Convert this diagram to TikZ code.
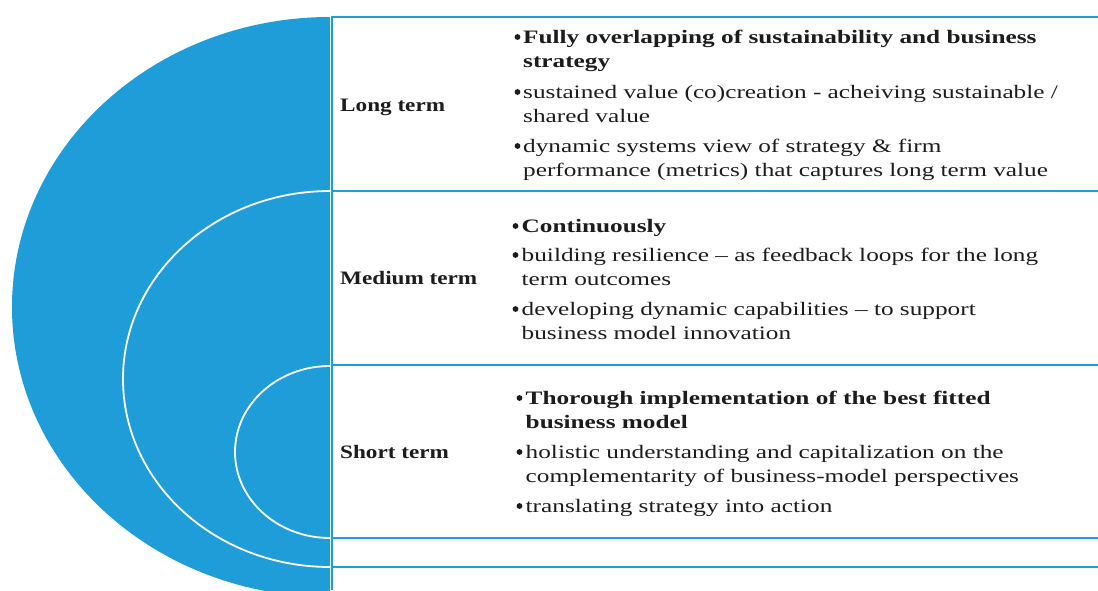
\documentclass[tikz,border=0pt]{standalone}
\usepackage{fontspec}
\setmainfont{Liberation Serif}[FakeStretch=1.33]
\newfontfamily\lblfont{Liberation Serif}[FakeStretch=1.22]
\definecolor{hblue}{RGB}{30,157,216}
\definecolor{ink}{RGB}{28,28,28}
\begin{document}
\begin{tikzpicture}[x=1pt,y=-1pt,
  base/.style={inner sep=0, anchor=base west, text=ink, font=\fontsize{19}{24.5}\selectfont},
  lbl/.style={base, font=\fontsize{19}{24.5}\selectfont\lblfont\bfseries},
  itm/.style={base, align=left},
  dot/.style={circle, fill=ink, inner sep=0, minimum size=5.8pt},
  hline/.style={draw=hblue, line width=2pt},
  warc/.style={draw=white, line width=1.8pt}
]
\useasboundingbox (0,0) rectangle (1098,590);
\clip (0,0) rectangle (1098,590);
% big blue half ellipse
\fill[hblue] (330,17) arc[start angle=90, end angle=270, x radius=318pt, y radius=290pt] -- cycle;
% inner white arcs
\draw[warc] (330,191) arc[start angle=90, end angle=270, x radius=207pt, y radius=188pt];
\draw[warc] (330,366) arc[start angle=90, end angle=270, x radius=95pt, y radius=86pt];
% frame lines
\draw[draw=hblue, line width=1.5pt] (332,16) -- (332,590);
\foreach \yy in {17,191,365,538,567} \draw[hline] (332,\yy) -- (1098,\yy);
% labels
\node[lbl] (lt) at (340,111) {Long term};
\node[lbl] (mt) at (340,284) {Medium term};
\node[lbl] (st) at (340,458) {Short term};
% long term items
\node[dot] (l1b) at (517.5,37) {};
\node[dot] (l2b) at (517.5,92) {};
\node[dot] (l3b) at (517.5,146) {};
\node[itm] (l1) at (523,43) {\begin{tabular}[t]{@{}l@{}}\textbf{Fully overlapping of sustainability and business}\\\textbf{strategy}\end{tabular}};
\node[itm] (l2) at (523,98) {\begin{tabular}[t]{@{}l@{}}sustained value (co)creation - acheiving sustainable /\\shared value\end{tabular}};
\node[itm] (l3) at (523,152) {\begin{tabular}[t]{@{}l@{}}dynamic systems view of strategy \& firm\\performance (metrics) that captures long term value\end{tabular}};
% medium term items
\node[dot] (m1b) at (515.5,226) {};
\node[dot] (m2b) at (515.5,255) {};
\node[dot] (m3b) at (515.5,309) {};
\node[itm] (m1) at (521.5,232) {\textbf{Continuously}};
\node[itm] (m2) at (521.5,261) {\begin{tabular}[t]{@{}l@{}}building resilience -- as feedback loops for the long\\term outcomes\end{tabular}};
\node[itm] (m3) at (521.5,315) {\begin{tabular}[t]{@{}l@{}}developing dynamic capabilities -- to support\\business model innovation\end{tabular}};
% short term items
\node[dot] (s1b) at (519.5,398) {};
\node[dot] (s2b) at (519.5,452) {};
\node[dot] (s3b) at (519.5,506) {};
\node[itm] (s1) at (525.5,404) {\begin{tabular}[t]{@{}l@{}}\textbf{Thorough implementation of the best fitted}\\\textbf{business model}\end{tabular}};
\node[itm] (s2) at (525.5,458) {\begin{tabular}[t]{@{}l@{}}holistic understanding and capitalization on the\\complementarity of business-model perspectives\end{tabular}};
\node[itm] (s3) at (525.5,512) {translating strategy into action};
\end{tikzpicture}
\end{document}
